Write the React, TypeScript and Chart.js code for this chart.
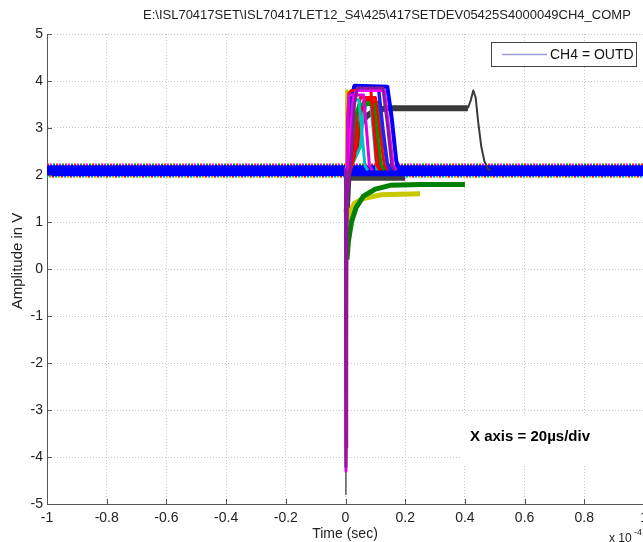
import React, { useEffect, useRef } from "react";
import { Chart, registerables } from "chart.js";
Chart.register(...registerables);

const titleText = "E:\\ISL70417SET\\ISL70417LET12_S4\\425\\417SETDEV05425S4000049CH4_COMP";
const xTickValues = [-1, -0.8, -0.6, -0.4, -0.2, 0, 0.2, 0.4, 0.6, 0.8, 1];
const yTickValues = [-5, -4, -3, -2, -1, 0, 1, 2, 3, 4, 5];

// baseline band (all channels idle level)
const baseX = [-1, 1];
const baseY = [2.09, 2.09];
const edgeTopY = [2.22, 2.22];
const edgeBotY = [1.97, 1.97];

// pulse traces (x in units of 1e-4 s)
const aX = [-0.004, 0, 0.002, 0.005, 0.008, 0.012, 0.02, 0.085, 0.095, 0.105, 0.115];
const aY = [2.1, 2.1, -3.8, 1.5, 3.2, 3.75, 3.8, 3.8, 3.0, 2.2, 2.1];
const bX = [-0.004, 0, 0.0015, 0.004, 0.007, 0.011, 0.06, 0.07, 0.08, 0.09];
const bY = [2.1, 2.1, -4.3, 1.2, 3.2, 3.7, 3.7, 3.0, 2.2, 2.1];
const cX = [-0.004, 0, 0.002, 0.005, 0.012, 0.02, 0.03, 0.14, 0.155, 0.17, 0.18];
const cY = [2.1, 2.1, -3.2, 1.8, 2.6, 3.6, 3.9, 3.88, 3.2, 2.3, 2.1];
const dX = [-0.004, 0, 0.002, 0.005, 0.02, 0.035, 0.045, 0.095, 0.108, 0.12, 0.13];
const dY = [2.1, 2.1, -3.5, 1.6, 2.6, 3.3, 3.5, 3.5, 2.8, 2.2, 2.1];
const eX = [-0.004, 0, 0.002, 0.005, 0.01, 0.02, 0.045, 0.055, 0.065, 0.075];
const eY = [2.1, 2.1, -2.5, 2.0, 3.0, 3.6, 3.6, 2.9, 2.2, 2.1];
const fX = [-0.004, 0, 0.0015, 0.005, 0.02, 0.03, 0.04, 0.125, 0.14, 0.155, 0.165];
const fY = [2.1, 2.1, -4.2, 1.4, 2.5, 3.5, 3.85, 3.85, 3.1, 2.2, 2.1];
const gX = [-0.004, 0, 0.002, 0.006, 0.03, 0.04, 0.05, 0.1, 0.115, 0.13, 0.14];
const gY = [2.1, 2.1, -3.0, 1.9, 2.4, 3.3, 3.65, 3.65, 2.9, 2.2, 2.1];
const hX = [-0.004, 0, 0.002, 0.006, 0.04, 0.05, 0.06, 0.11, 0.125, 0.14, 0.15];
const hY = [2.1, 2.1, -2.8, 2.0, 2.5, 3.3, 3.55, 3.55, 2.8, 2.2, 2.1];
const iX = [-0.004, 0, 0.0015, 0.005, 0.015, 0.025, 0.035, 0.13, 0.145, 0.16, 0.17];
const iY = [2.1, 2.1, -4.0, 1.6, 2.8, 3.6, 3.8, 3.8, 3.0, 2.2, 2.1];
const jX = [-0.004, 0, 0.002, 0.006, 0.05, 0.06, 0.07, 0.085, 0.095, 0.105];
const jY = [2.1, 2.1, -2.0, 2.0, 2.6, 3.3, 3.5, 3.5, 2.8, 2.1];
const pX = [-0.004, 0, 0.002, 0.006, 0.01, 0.02, 0.03, 0.11, 0.125, 0.14, 0.15];
const pY = [2.1, 2.1, -3.4, 1.7, 2.9, 3.7, 3.88, 3.88, 3.0, 2.25, 2.1];
const qX = [-0.004, 0, 0.002, 0.006, 0.045, 0.055, 0.065, 0.09, 0.1, 0.115, 0.125];
const qY = [2.1, 2.1, -2.6, 1.9, 2.7, 3.4, 3.6, 3.6, 2.9, 2.2, 2.1];
// long dark-gray event
const kX = [-0.004, 0, 0.0015, 0.004, 0.01, 0.02, 0.04, 0.07, 0.1, 0.14, 0.41, 0.42, 0.428, 0.436, 0.445, 0.455, 0.465, 0.475, 0.485];
const kY = [2.1, 2.1, -4.8, 1.2, 2.0, 2.6, 3.0, 3.25, 3.38, 3.42, 3.42, 3.6, 3.8, 3.65, 3.1, 2.6, 2.3, 2.15, 2.1];
// low recovering traces
const lX = [-0.004, 0, 0.002, 0.005, 0.01, 0.02, 0.035, 0.06, 0.1, 0.15, 0.25, 0.4];
const lY = [2.1, 2.1, -3.0, 0.2, 0.6, 1.0, 1.3, 1.55, 1.7, 1.78, 1.8, 1.8];
const mX = [-0.004, 0, 0.0015, 0.003, 0.005, 0.008, 0.015, 0.03, 0.06, 0.12, 0.25];
const mY = [2.1, 2.1, -2.6, 3.8, 2.0, 1.0, 1.2, 1.4, 1.5, 1.58, 1.6];
const nX = [0.005, 0.02, 0.2];
const nY = [1.93, 1.93, 1.93];

const legendLabel = "CH4 = OUTD";
const noteText = "X axis = 20\u00b5s/div";

const FONT = "'Liberation Sans', Arial, sans-serif";

function pts(xs: number[], ys: number[]) {
  return xs.map((x, i) => ({ x, y: ys[i] }));
}

function ds(xs: number[], ys: number[], color: string, width: number, order: number, extra: any = {}) {
  return {
    data: pts(xs, ys),
    borderColor: color,
    backgroundColor: color,
    borderWidth: width,
    pointRadius: 0,
    tension: 0,
    order,
    borderJoinStyle: "round",
    ...extra,
  };
}

// thinner line during the fast transient spike at t≈0, thicker (noisy look) afterwards
function trace(xs: number[], ys: number[], color: string, width: number, order: number, spikeEnd = 0.005, spikeW = 2) {
  return ds(xs, ys, color, width, order, {
    segment: { borderWidth: (c: any) => (c.p0.parsed.x < spikeEnd && c.p0.parsed.x >= -0.001 ? spikeW : width) },
  });
}

function edge(ys: number[], color: string, offset: number, order: number) {
  return ds(baseX, ys, color, 2.5, order, { borderDash: [2, 7], borderDashOffset: offset });
}

const overlay = {
  id: "overlay",
  afterDraw(chart: any) {
    const ctx = chart.ctx as CanvasRenderingContext2D;
    const area = chart.chartArea;
    const xs = chart.scales.x;
    const ys = chart.scales.y;
    ctx.save();
    // inward ticks
    ctx.strokeStyle = "#555";
    ctx.lineWidth = 1;
    ctx.beginPath();
    xTickValues.forEach((v) => {
      const px = Math.round(xs.getPixelForValue(v)) + 0.5;
      ctx.moveTo(px, area.bottom);
      ctx.lineTo(px, area.bottom - 5);
    });
    yTickValues.forEach((v) => {
      const py = Math.round(ys.getPixelForValue(v)) + 0.5;
      ctx.moveTo(area.left, py);
      ctx.lineTo(area.left + 5, py);
    });
    ctx.stroke();

    ctx.fillStyle = "#222";
    // title
    ctx.font = `13px ${FONT}`;
    ctx.textAlign = "left";
    ctx.textBaseline = "middle";
    ctx.fillText(titleText, 143, 15);
    // axis titles
    ctx.font = `14px ${FONT}`;
    ctx.textAlign = "center";
    ctx.fillText("Time (sec)", 345, 534);
    ctx.save();
    ctx.translate(18, 261);
    ctx.rotate(-Math.PI / 2);
    ctx.font = `15px ${FONT}`;
    ctx.fillText("Amplitude in V", 0, 0);
    ctx.restore();
    // x 10^-4
    ctx.textAlign = "left";
    ctx.font = `12px ${FONT}`;
    ctx.fillText("x 10", 609, 539);
    ctx.font = `9px ${FONT}`;
    ctx.fillText("-4", 634, 533);

    // legend
    ctx.fillStyle = "#fff";
    ctx.fillRect(491, 42, 145, 24);
    ctx.strokeStyle = "#444";
    ctx.lineWidth = 1;
    ctx.strokeRect(491.5, 42.5, 145, 24);
    ctx.strokeStyle = "#9d9ddc";
    ctx.lineWidth = 1.5;
    ctx.beginPath();
    ctx.moveTo(502, 54.5);
    ctx.lineTo(547, 54.5);
    ctx.stroke();
    ctx.fillStyle = "#111";
    ctx.font = `14px ${FONT}`;
    ctx.textAlign = "left";
    ctx.fillText(legendLabel, 550, 55);

    // annotation
    ctx.fillStyle = "#fff";
    ctx.fillRect(462, 413, 190, 52);
    ctx.fillStyle = "#000";
    ctx.font = `bold 15px ${FONT}`;
    ctx.fillText(noteText, 470, 437);
    ctx.restore();
  },
};

export default function App() {
  const ref = useRef<HTMLCanvasElement | null>(null);
  useEffect(() => {
    if (!ref.current) return;
    const chart = new Chart(ref.current, {
      type: "line",
      data: {
        datasets: [
          edge(edgeTopY, "#ff2020", 0, 110),
          edge(edgeTopY, "#00a000", 3, 111),
          edge(edgeTopY, "#ff00ff", 6, 112),
          edge(edgeBotY, "#00bfbf", 1, 113),
          edge(edgeBotY, "#ff2020", 4, 114),
          edge(edgeBotY, "#c0c000", 7, 115),
          ds(nX, nY, "#404040", 5, 104),
          ds(baseX, baseY, "#0000ff", 11, 101),
          ds(kX, kY, "#3a3a3a", 6, 40, {
            segment: {
              borderWidth: (c: any) => {
                const x0 = c.p0.parsed.x;
                if (x0 >= -0.001 && x0 < 0.004) return 1.2;
                return x0 >= 0.41 ? 2 : 6;
              },
            },
          }),
          trace(mX, mY, "#c8c800", 5, 31, 0.008, 2.5),
          trace(lX, lY, "#008000", 5, 30, 0.005, 1.5),
          trace(hX, hY, "#00a000", 3, 16),
          trace(qX, qY, "#e00000", 3, 15),
          trace(jX, jY, "#00bfbf", 3, 14),
          trace(gX, gY, "#ff0000", 3, 13),
          trace(dX, dY, "#009000", 3, 12),
          trace(eX, eY, "#00c0c0", 3, 11),
          trace(pX, pY, "#2020ff", 3.5, 8.5),
          trace(cX, cY, "#0000ff", 4, 6),
          trace(aX, aY, "#ff0000", 3, 5, 0.005, 2.5),
          trace(iX, iY, "#ff00ff", 3, 4, 0.005, 2.5),
          trace(bX, bY, "#e000e0", 3, 3, 0.004, 3),
          trace(fX, fY, "#8b1a9b", 3, 2, 0.005, 3),
        ],
      },
      options: {
        responsive: false,
        animation: false,
        events: [],
        layout: { padding: { left: 0, top: 34, right: 36, bottom: 0 } },
        plugins: { legend: { display: false }, tooltip: { enabled: false }, title: { display: false } },
        scales: {
          x: {
            type: "linear",
            min: -1,
            max: 1,
            afterBuildTicks: (s: any) => {
              s.ticks = xTickValues.map((v) => ({ value: v }));
            },
            afterFit: (s: any) => {
              s.height = 38;
            },
            ticks: {
              autoSkip: false,
              maxRotation: 0,
              padding: 6,
              color: "#222",
              font: { family: FONT, size: 14 },
              callback: (v: any) => String(Number(Number(v).toFixed(1))),
            },
            grid: { color: "#c8c8c8", lineWidth: 1, drawTicks: false },
            border: { color: "#555", width: 1, dash: [1, 2] },
          },
          y: {
            type: "linear",
            min: -5,
            max: 5,
            afterBuildTicks: (s: any) => {
              s.ticks = yTickValues.map((v) => ({ value: v }));
            },
            afterFit: (s: any) => {
              s.width = 47;
            },
            ticks: {
              autoSkip: false,
              padding: 4,
              color: "#222",
              font: { family: FONT, size: 14 },
              callback: (v: any) => String(v),
            },
            grid: { color: "#c8c8c8", lineWidth: 1, drawTicks: false },
            border: { color: "#555", width: 1, dash: [1, 2] },
          },
        },
      },
      plugins: [overlay],
    } as any);
    return () => chart.destroy();
  }, []);
  return (
    <div style={{ position: "fixed", left: 0, top: 0, width: 643, height: 542, overflow: "hidden", background: "#fff" }}>
      <canvas ref={ref} width={680} height={542} style={{ display: "block" }} />
    </div>
  );
}
